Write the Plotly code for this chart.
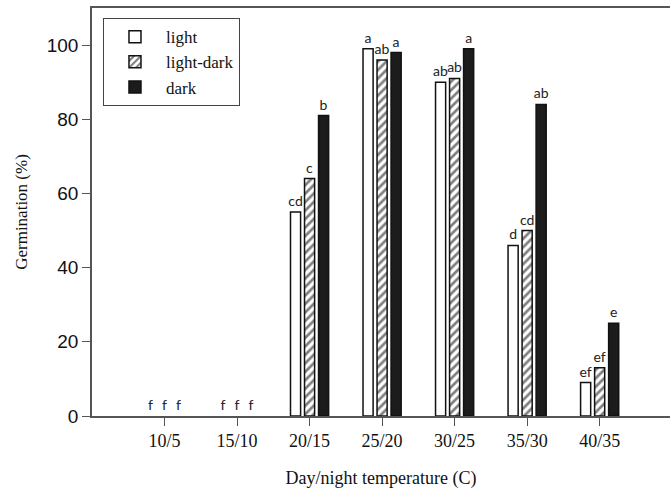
import plotly.graph_objects as go

categories = ["10/5", "15/10", "20/15", "25/20", "30/25", "35/30", "40/35"]
light = [0, 0, 55, 99, 90, 46, 9]
light_dark = [0, 0, 64, 96, 91, 50, 13]
dark = [0, 0, 81, 98, 99, 84, 25]
light_letters = ["f", "f", "cd", "a", "ab", "d", "ef"]
light_dark_letters = ["f", "f", "c", "ab", "ab", "cd", "ef"]
dark_letters = ["f", "f", "b", "a", "a", "ab", "e"]

x_idx = list(range(len(categories)))
serif = "Liberation Serif, Times New Roman, serif"
label_font = dict(family="Lato, Carlito, sans-serif", size=14, color="#222")


def rev(seq):
    # points are given last-to-first so the legend swatch takes a visible bar's style
    return list(seq)[::-1]


def outline_widths(values):
    return [0 if v == 0 else 1.5 for v in values]


fig = go.Figure()
fig.add_trace(go.Bar(
    x=rev(x_idx), y=rev(light), name="light", text=rev(light_letters),
    textposition="outside", constraintext="none", cliponaxis=False,
    textfont=label_font,
    marker=dict(color="white", line=dict(color="#111", width=rev(outline_widths(light)))),
))
fig.add_trace(go.Bar(
    x=rev(x_idx), y=rev(light_dark), name="light-dark", text=rev(light_dark_letters),
    textposition="outside", constraintext="none", cliponaxis=False,
    textfont=label_font,
    marker=dict(color="white", line=dict(color="#111", width=rev(outline_widths(light_dark))),
                pattern=dict(shape="/", fgcolor="#000", bgcolor="white",
                             size=6, solidity=0.45)),
))
fig.add_trace(go.Bar(
    x=rev(x_idx), y=rev(dark), name="dark", text=rev(dark_letters),
    textposition="outside", constraintext="none", cliponaxis=False,
    textfont=label_font,
    marker=dict(color="#1c1c1c", line=dict(color="#111", width=rev(outline_widths(dark)))),
))

fig.update_layout(
    width=670, height=493,
    margin=dict(l=92, r=0, t=8, b=77, autoexpand=False),
    paper_bgcolor="white", plot_bgcolor="white",
    barmode="group", bargap=0.42, bargroupgap=0.28,
    showlegend=True,
    legend=dict(
        x=0.019, y=0.975, xanchor="left", yanchor="top",
        bordercolor="#444", borderwidth=1, bgcolor="white",
        font=dict(family=serif, size=17, color="#111"),
        itemwidth=52,
    ),
    xaxis=dict(
        tickmode="array", tickvals=x_idx, ticktext=categories,
        range=[-1, 6.97], showgrid=False, zeroline=False, automargin=False,
        showline=True, linecolor="#555", linewidth=1.5, mirror=True,
        ticks="outside", ticklen=8, tickcolor="#555", tickwidth=1,
        tickfont=dict(family=serif, size=18, color="#111"),
        title=dict(text="Day/night temperature (C)",
                   font=dict(family=serif, size=18, color="#111"), standoff=21),
    ),
    yaxis=dict(
        range=[0, 110], tickvals=[0, 20, 40, 60, 80, 100],
        showgrid=False, zeroline=False, automargin=False,
        showline=True, linecolor="#555", linewidth=1.5,
        ticks="outside", ticklen=8, tickcolor="#555", tickwidth=1,
        tickfont=dict(family="Liberation Sans, Arial, sans-serif", size=19, color="#111"),
        title=dict(text="Germination (%)",
                   font=dict(family=serif, size=17, color="#111"), standoff=15),
    ),
)

fig.write_html("out.html", config={"displayModeBar": False},
               post_script="document.body.style.margin='0';")
